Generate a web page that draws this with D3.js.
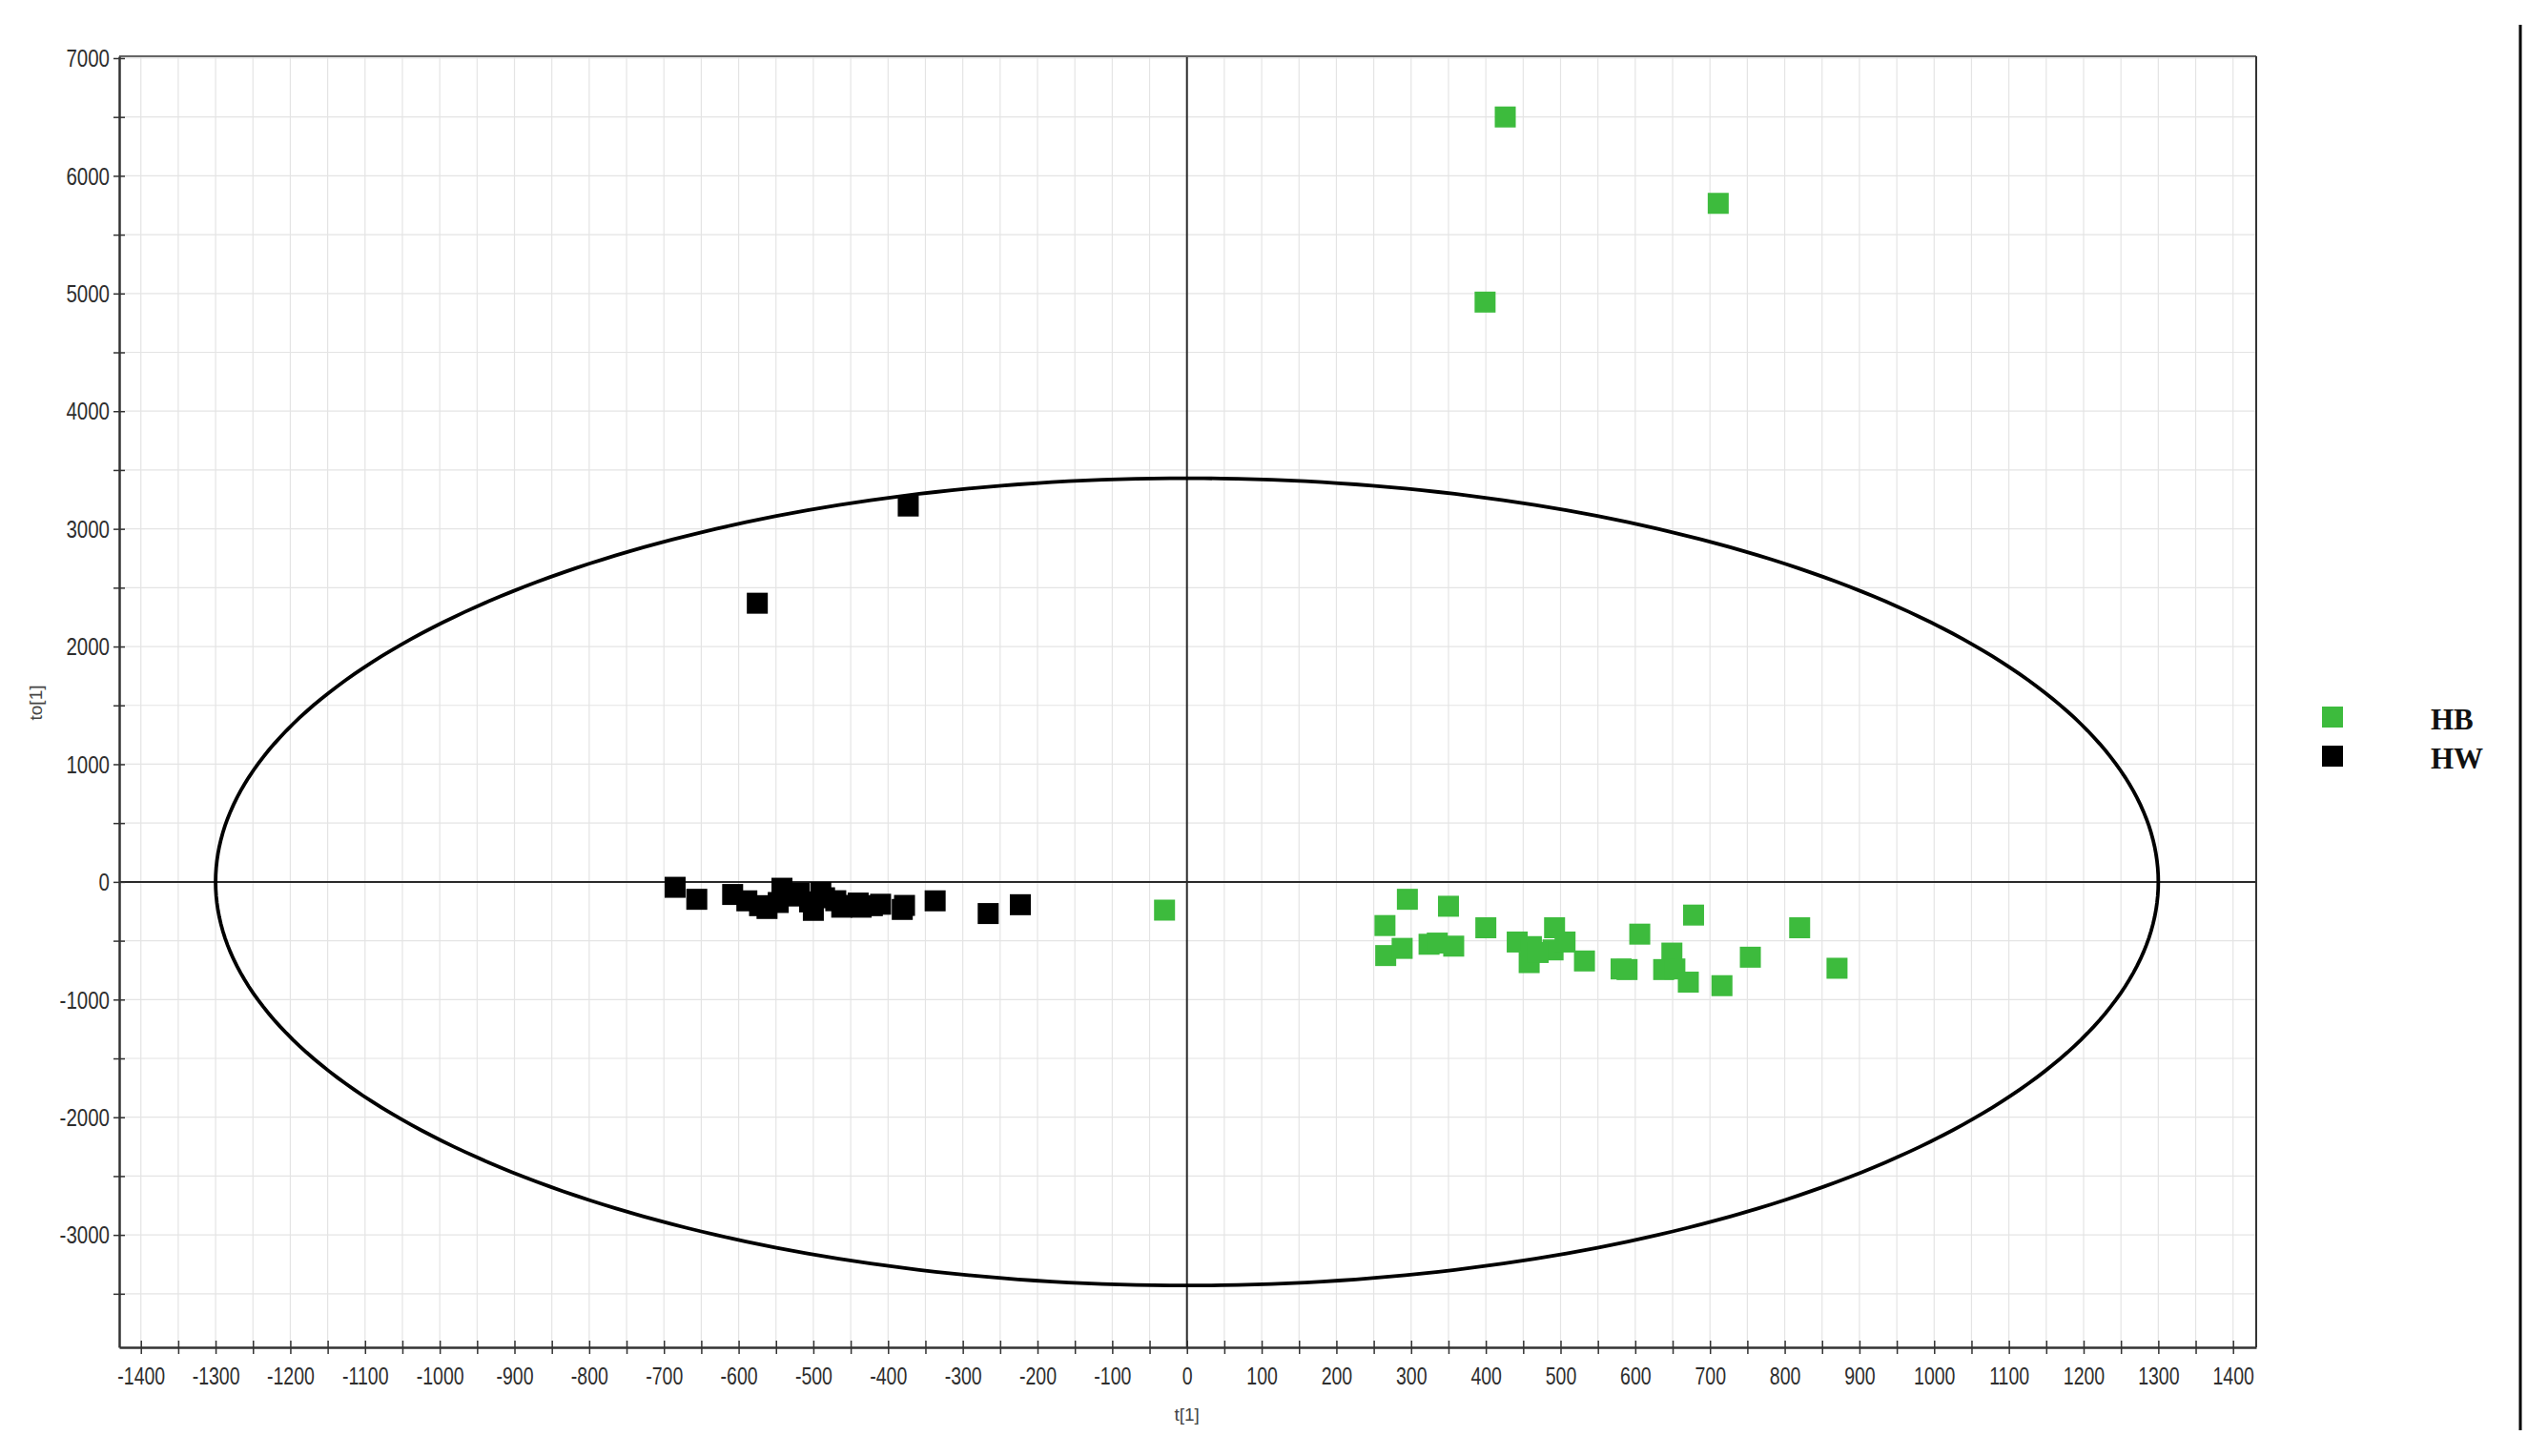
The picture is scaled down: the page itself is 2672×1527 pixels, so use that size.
<!DOCTYPE html>
<html>
<head>
<meta charset="utf-8">
<script src="https://cdn.jsdelivr.net/npm/d3@7"></script>
<style>
  html, body { margin: 0; padding: 0; background: #fff; }
  .tick-label { font-family: "Liberation Sans", Arial, sans-serif; font-size: 25px; fill: #2e2e2e; }
  .legend-label { font-family: "Liberation Serif", "Times New Roman", serif; font-weight: bold; font-size: 31px; fill: #111; }
  .axis-title { font-family: "Liberation Sans", Arial, sans-serif; font-size: 19px; fill: #444; }
</style>
</head>
<body>
<div id="chart"></div>
<script>
// ---------------------------------------------------------------------------
// data (t[1] vs to[1])
// ---------------------------------------------------------------------------
const groups = ["HB", "HW"];
const groupColors = ["#3dbb3d", "#000000"];

const hbT  = [426, 711, 399, -30, 295, 350, 265, 266, 288, 324, 357, 400, 442, 458, 461, 492, 490, 506, 532, 581,
              589, 606, 649, 638, 653, 671, 678, 716, 754, 820, 870, 335, 470];
const hbTo = [6500, 5766, 4927, -240, -148, -207, -371, -626, -565, -530, -546, -390, -511, -686, -550, -390, -578, -511, -672, -740,
              -745, -444, -605, -745, -740, -852, -282, -882, -640, -390, -734, -520, -600];

const hwT  = [-373, -575, -685, -656, -608, -589, -572, -562, -542, -547, -519, -500, -485, -462, -436, -421, -381, -337, -266, -223,
              -530, -505, -470, -450, -490, -378, -440, -410];
const hwTo = [3194, 2368, -46, -148, -107, -161, -202, -226, -54, -175, -94, -242, -135, -215, -215, -202, -234, -161, -269, -194,
              -120, -170, -160, -200, -90, -200, -180, -190];

// Hotelling T2 ellipse semi-axes
const ellipseT = 1300;
const ellipseTo = 3430;

const xTicks = d3.range(-1400, 1401, 50);
const yTicks = d3.range(-3500, 7001, 500);
const xGrid = d3.range(-1400, 1401, 50);
const yGrid = d3.range(-3500, 7001, 500);

// ---------------------------------------------------------------------------
const W = 2672, H = 1527;
const plot = {left: 125, right: 2366, top: 59, bottom: 1413};

const svg = d3.select("#chart").append("svg")
    .attr("width", W).attr("height", H);

const x = d3.scaleLinear().domain([-1429, 1431]).range([plot.left, plot.right]);
const y = d3.scaleLinear().domain([-3955, 7016]).range([plot.bottom, plot.top]);

// grid
const grid = svg.append("g");
grid.selectAll("line.vg").data(xGrid).enter().append("line")
    .attr("x1", d => x(d)).attr("x2", d => x(d))
    .attr("y1", plot.top).attr("y2", plot.bottom)
    .attr("stroke", "#e4e4e4").attr("stroke-width", 1.2);
grid.selectAll("line.hg").data(yGrid).enter().append("line")
    .attr("x1", plot.left).attr("x2", plot.right)
    .attr("y1", d => y(d)).attr("y2", d => y(d))
    .attr("stroke", "#e4e4e4").attr("stroke-width", 1.2);

// zero lines
svg.append("line")
    .attr("x1", x(0)).attr("x2", x(0)).attr("y1", plot.top).attr("y2", plot.bottom)
    .attr("stroke", "#2a2a2a").attr("stroke-width", 2);
svg.append("line")
    .attr("x1", plot.left).attr("x2", plot.right).attr("y1", y(0)).attr("y2", y(0))
    .attr("stroke", "#2a2a2a").attr("stroke-width", 2);

// frame top / right
svg.append("line")
    .attr("x1", plot.left).attr("x2", plot.right).attr("y1", plot.top).attr("y2", plot.top)
    .attr("stroke", "#666").attr("stroke-width", 2);
svg.append("line")
    .attr("x1", plot.right).attr("x2", plot.right).attr("y1", plot.top).attr("y2", plot.bottom)
    .attr("stroke", "#333").attr("stroke-width", 2);

// ellipse
const ell = d3.range(0, 361, 1).map(a => {
    const r = a * Math.PI / 180;
    return [x(ellipseT * Math.cos(r)), y(ellipseTo * Math.sin(r))];
});
svg.append("path")
    .attr("d", d3.line()(ell))
    .attr("fill", "none").attr("stroke", "#000").attr("stroke-width", 3.8);

// axes
const xAxis = svg.append("g")
    .attr("transform", "translate(0," + plot.bottom + ")")
    .call(d3.axisBottom(x).tickValues(xTicks).tickSizeOuter(0)
        .tickFormat(d => d % 100 === 0 ? d : ""));
xAxis.select(".domain").attr("stroke", "#333").attr("stroke-width", 2.5);
xAxis.selectAll(".tick line").attr("y1", -7).attr("y2", 7).attr("stroke", "#333").attr("stroke-width", 1.5);
xAxis.selectAll(".tick text")
    .attr("class", "tick-label")
    .attr("y", 0).attr("dy", 0)
    .attr("transform", "translate(0,39) scale(0.78,1)")
    .attr("font-size", null).attr("font-family", null).attr("fill", null);

const yAxis = svg.append("g")
    .attr("transform", "translate(" + plot.left + ",0)")
    .call(d3.axisLeft(y).tickValues(yTicks).tickSizeOuter(0)
        .tickFormat(d => d % 1000 === 0 ? d : ""));
yAxis.select(".domain").attr("stroke", "#333").attr("stroke-width", 2.5);
yAxis.selectAll(".tick line").attr("x1", -6).attr("x2", 6).attr("stroke", "#333").attr("stroke-width", 1.5);
yAxis.selectAll(".tick text")
    .attr("class", "tick-label")
    .attr("x", 0).attr("dy", "0.35em")
    .attr("transform", "translate(-10,0) scale(0.82,1)")
    .attr("font-size", null).attr("font-family", null).attr("fill", null);

// axis titles
svg.append("text").attr("class", "axis-title")
    .attr("x", x(0)).attr("y", 1490).attr("text-anchor", "middle")
    .text("t[1]");
svg.append("text").attr("class", "axis-title")
    .attr("transform", "translate(44,737) rotate(-90)")
    .attr("text-anchor", "middle")
    .text("to[1]");

// points
const size = 22;
function drawGroup(ts, tos, color){
    svg.append("g").selectAll("rect")
        .data(d3.range(ts.length))
        .enter().append("rect")
        .attr("x", i => x(ts[i]) - size / 2)
        .attr("y", i => y(tos[i]) - size / 2)
        .attr("width", size).attr("height", size)
        .attr("fill", color);
}
drawGroup(hbT, hbTo, groupColors[0]);
drawGroup(hwT, hwTo, groupColors[1]);

// legend
const legend = svg.append("g").attr("transform", "translate(2435,741)");
groups.forEach(function(g, i){
    legend.append("rect")
        .attr("x", 0).attr("y", i * 41)
        .attr("width", 22).attr("height", 22)
        .attr("fill", groupColors[i]);
    legend.append("text").attr("class", "legend-label")
        .attr("x", 114).attr("y", i * 41 + 24)
        .text(g);
});

// right border line of the figure
svg.append("line")
    .attr("x1", 2643).attr("x2", 2643).attr("y1", 26).attr("y2", 1500)
    .attr("stroke", "#000").attr("stroke-width", 3);
</script>
</body>
</html>
